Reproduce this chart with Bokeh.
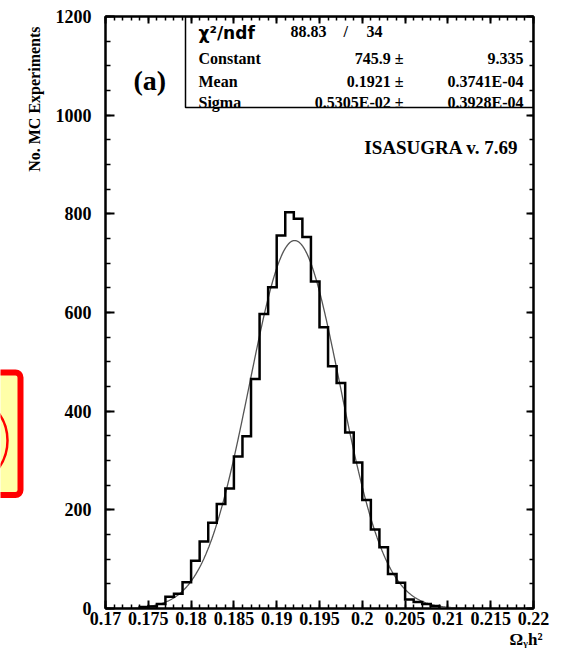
import numpy as np
from bokeh.plotting import figure
from bokeh.layouts import row
from bokeh.models import Range1d, FixedTicker, LinearAxis, Label, BoxAnnotation, Title
from bokeh.embed import file_html
from bokeh.resources import INLINE

# ---------------- data ----------------
bin_left = [0.174, 0.175, 0.176, 0.177, 0.178, 0.179, 0.180, 0.181, 0.182, 0.183,
            0.184, 0.185, 0.186, 0.187, 0.188, 0.189, 0.190, 0.191, 0.192, 0.193,
            0.194, 0.195, 0.196, 0.197, 0.198, 0.199, 0.200, 0.201, 0.202, 0.203,
            0.204, 0.205, 0.206, 0.207, 0.208]
counts = [3, 4, 9, 24, 30, 53, 97, 136, 174, 212,
          243, 308, 349, 465, 597, 651, 756, 803, 790, 753,
          663, 570, 491, 457, 357, 296, 220, 160, 124, 70,
          52, 18, 13, 9, 5]
bin_width = 0.001

fit_constant = 745.9
fit_mean = 0.1921
fit_sigma = 0.5305e-02

x_ticks = [0.17, 0.175, 0.18, 0.185, 0.19, 0.195, 0.2, 0.205, 0.21, 0.215, 0.22]
x_tick_labels = ["0.17", "0.175", "0.18", "0.185", "0.19", "0.195", "0.2",
                 "0.205", "0.21", "0.215", "0.22"]
y_ticks = [0, 200, 400, 600, 800, 1000, 1200]
y_tick_labels = ["0", "200", "400", "600", "800", "1000", "1200"]

chi2_value = "88.83"
ndf_value = "34"
stat_names = ["Constant", "Mean", "Sigma"]
stat_values = ["745.9", "0.1921", "0.5305E-02"]
stat_errors = ["9.335", "0.3741E-04", "0.3928E-04"]

y_title = "No. MC Experiments"
x_title = "\u03a9\u1d67h\u00b2"

# ---------------- layout ----------------
W, H = 564, 652
D = 45                       # width of the left strip (decoration + y title)
L, R, T, B = 105, 31, 16, 44  # frame position on the page
FB = H - B                   # frame bottom in page px

serif = "Liberation Serif"

# left strip: piece of a slide decoration (yellow box with red border) + y title
deco = figure(width=D, height=H, x_range=Range1d(0, D), y_range=Range1d(0, H),
              output_backend="svg", toolbar_location=None, min_border=0,
              x_axis_type=None, y_axis_type=None)
deco.outline_line_color = None
deco.background_fill_color = "white"
deco.border_fill_color = "white"
deco.add_layout(BoxAnnotation(left=-30, right=20, top=H - 392, bottom=H - 527,
                              fill_color="#FFFFA8", fill_alpha=1.0,
                              line_color="#FF0000", line_alpha=1.0, line_width=6,
                              border_radius=5))
deco.add_layout(BoxAnnotation(left=-96, right=7, top=H - 415, bottom=H - 519,
                              fill_alpha=0.0, line_color="#FF0000", line_alpha=1.0,
                              line_width=2.5, border_radius=52))
deco.add_layout(Label(x=34, y=H - 91, text=y_title, angle=np.pi / 2,
                      text_align="center", text_baseline="middle",
                      text_font=serif, text_font_style="bold",
                      text_font_size="16px", text_color="black"))

p = figure(width=W - D, height=H, x_range=Range1d(0.17, 0.22), y_range=Range1d(0, 1200),
           output_backend="svg", toolbar_location=None,
           min_border_left=L - D, min_border_right=R, min_border_top=T, min_border_bottom=B)
p.background_fill_color = "white"
p.border_fill_color = "white"
p.outline_line_color = "black"
p.outline_line_width = 2
p.xgrid.visible = False
p.ygrid.visible = False

x_minor = [round(0.17 + i * 0.001, 3) for i in range(51)]
y_minor = list(range(0, 1201, 50))


def style_axis(ax, ticker, major_len, minor_len, labels, size="18px", standoff=5):
    ax.ticker = ticker
    ax.axis_line_color = "black"
    ax.axis_line_width = 2
    ax.major_tick_in = major_len
    ax.major_tick_out = 0
    ax.minor_tick_in = minor_len
    ax.minor_tick_out = 0
    ax.major_tick_line_width = 2
    ax.minor_tick_line_width = 1.5
    ax.major_tick_line_color = "black"
    ax.minor_tick_line_color = "black"
    ax.major_label_text_font = serif
    ax.major_label_text_font_style = "bold"
    ax.major_label_text_font_size = size
    ax.major_label_text_color = "black"
    ax.major_label_standoff = standoff
    ax.major_label_overrides = labels


style_axis(p.xaxis[0], FixedTicker(ticks=x_ticks, minor_ticks=x_minor), 8, 4,
           dict(zip(x_ticks, x_tick_labels)), "18px", 3)
style_axis(p.yaxis[0], FixedTicker(ticks=y_ticks, minor_ticks=y_minor), 9, 5,
           dict(zip(y_ticks, y_tick_labels)), "18px", 14)
# mirrored tick marks on top and right (no labels)
top_axis = LinearAxis()
right_axis = LinearAxis()
style_axis(top_axis, FixedTicker(ticks=x_ticks, minor_ticks=x_minor), 7, 4,
           {t: "" for t in x_ticks}, "10px", 0)
style_axis(right_axis, FixedTicker(ticks=y_ticks, minor_ticks=y_minor), 7, 4,
           {t: "" for t in y_ticks}, "10px", 0)
p.add_layout(top_axis, "above")
p.add_layout(right_axis, "right")

# x axis title at the right end, below the tick labels
xt = Title(text=x_title, align="right", text_font=serif, text_font_style="bold",
           text_font_size="17px", text_color="black", standoff=1, offset=-9)
p.add_layout(xt, "below")

# ---------------- histogram + fit ----------------
edges = np.array(bin_left)
rights = edges + bin_width
hx = np.concatenate([[edges[0]], np.column_stack([edges, rights]).ravel(), [rights[-1]]])
hy = np.concatenate([[0], np.repeat(counts, 2), [0]])

gx = np.linspace(0.17, 0.22, 600)
gy = fit_constant * np.exp(-0.5 * ((gx - fit_mean) / fit_sigma) ** 2)
p.line(gx, gy, line_color="#555555", line_width=1.3)
p.line(hx, hy, line_color="black", line_width=2.5, line_join="miter")


# ---------------- annotations inside the frame ----------------
def add_label(text, cx, cy, size, align="left", baseline="alphabetic",
              font=serif, style="bold"):
    p.add_layout(Label(x=cx - L, y=FB - cy, x_units="screen", y_units="screen",
                       text=text, text_font=font, text_font_size=f"{size}px",
                       text_font_style=style, text_align=align,
                       text_baseline=baseline, text_color="black"))


# stats box
p.add_layout(BoxAnnotation(left=185 - L, right=533 - L, top=FB - 16, bottom=FB - 107,
                           left_units="screen", right_units="screen",
                           top_units="screen", bottom_units="screen",
                           fill_alpha=0.0, line_color="black", line_alpha=1.0,
                           line_width=1.5))
add_label("\u03c7\u00b2/ndf", 198, 32, 17, font="DejaVu Sans")
add_label(chi2_value, 290, 31, 16)
add_label("/", 343, 31, 16)
add_label(ndf_value, 366, 31, 16)
row_y = [58, 80.5, 101.5]
for name, val, err, yy in zip(stat_names, stat_values, stat_errors, row_y):
    add_label(name, 198, yy, 16)
    add_label(val + " \u00b1", 403, yy, 16, align="right")
    add_label(err, 523, yy, 16, align="right")

add_label("(a)", 133, 80, 28)
add_label("ISASUGRA v. 7.69", 518, 147, 19, align="right")

open("out.html", "w").write(file_html(row(deco, p), INLINE))
